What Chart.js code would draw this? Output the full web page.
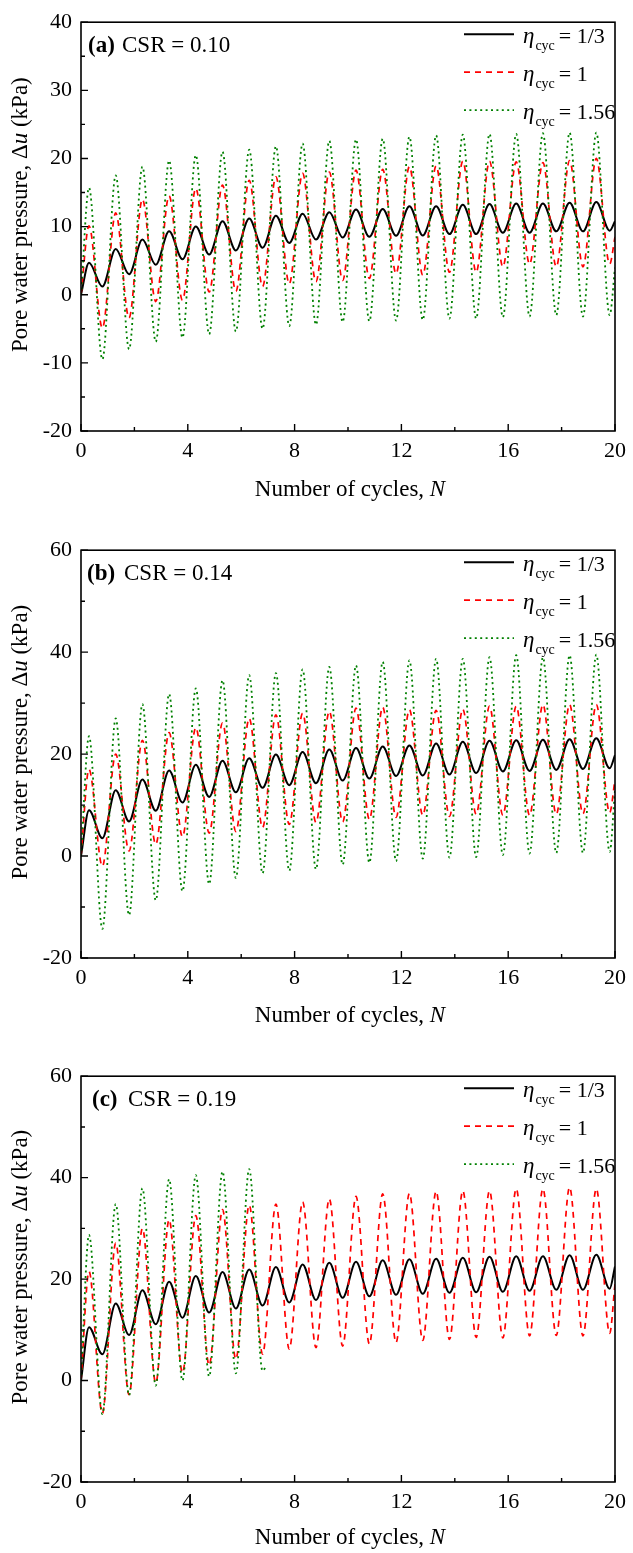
<!DOCTYPE html>
<html lang="en">
<head>
    <meta charset="UTF-8">
    <title>Pore water pressure vs. number of cycles</title>
    <script src="https://cdn.jsdelivr.net/npm/chart.js"></script>
    <style>
        body { margin: 0; width: 633px; height: 1553px; overflow: hidden; background: #fff; position: relative; }
        .panel { position: absolute; left: 0; width: 633px; height: 520px; }
    </style>
</head>
<body>
    <!-- (a) CSR = 0.10 -->
    <div class="panel" style="top:0px"><canvas id="chartA" width="633" height="520"></canvas></div>
    <!-- (b) CSR = 0.14 -->
    <div class="panel" style="top:528px"><canvas id="chartB" width="633" height="520"></canvas></div>
    <!-- (c) CSR = 0.19 -->
    <div class="panel" style="top:1054px"><canvas id="chartC" width="633" height="520"></canvas></div>

<script>
// =================================================================
//  data: peak / trough of every loading cycle
// =================================================================

// position (N) of the peaks and troughs, same for all curves
const peakN   = [0.3, 1.3, 2.3, 3.3, 4.3, 5.3, 6.3, 7.3, 8.3, 9.3, 10.3, 11.3, 12.3, 13.3, 14.3, 15.3, 16.3, 17.3, 18.3, 19.3];
const troughN = [0.8, 1.8, 2.8, 3.8, 4.8, 5.8, 6.8, 7.8, 8.8, 9.8, 10.8, 11.8, 12.8, 13.8, 14.8, 15.8, 16.8, 17.8, 18.8, 19.8];

const legendLabels = ['1/3', '1', '1.56'];

// (a) CSR = 0.10
const aPeak033   = [4.7, 6.7, 8.1, 9.3, 10.0, 10.8, 11.2, 11.6, 11.9, 12.1, 12.5, 12.6, 13.0, 13.0, 13.2, 13.3, 13.4, 13.4, 13.5, 13.6];
const aTrough033 = [1.2, 3.0, 4.4, 5.2, 5.9, 6.5, 6.9, 7.6, 8.1, 8.4, 8.5, 8.65, 8.7, 8.9, 8.9, 9.1, 9.1, 9.3, 9.3, 9.4];
const aPeak1     = [10.1, 12.0, 14.0, 14.5, 15.6, 16.1, 16.8, 17.3, 17.8, 18.0, 18.3, 18.4, 18.8, 18.9, 19.6, 19.6, 19.5, 19.4, 19.7, 20.0];
const aTrough1   = [-4.9, -3.4, -1.0, -0.8, 0.4, 0.5, 1.2, 1.6, 1.9, 2.1, 2.4, 3.1, 2.9, 3.3, 3.3, 4.1, 4.5, 4.1, 4.1, 4.5];
const aPeak156   = [15.7, 17.5, 18.8, 19.7, 20.5, 21.0, 21.3, 21.8, 22.2, 22.6, 22.8, 22.9, 23.2, 23.4, 23.5, 23.6, 23.6, 23.7, 23.8, 23.8];
const aTrough156 = [-9.5, -8.0, -6.9, -6.3, -5.8, -5.4, -5.0, -4.6, -4.4, -4.0, -3.9, -3.8, -3.7, -3.5, -3.5, -3.3, -3.2, -3.0, -3.2, -3.0];
const aEnd       = [10.8, 8.5, 4.0];   // value at N = 20

// (b) CSR = 0.14
const bPeak033   = [9.0, 12.9, 15.0, 16.8, 17.9, 18.7, 19.2, 19.9, 20.4, 20.9, 21.2, 21.5, 21.7, 22.1, 22.4, 22.6, 22.7, 22.8, 22.9, 23.1];
const bTrough033 = [3.5, 6.8, 8.9, 10.5, 11.6, 12.5, 13.4, 13.9, 14.3, 14.8, 15.2, 15.7, 15.8, 16.0, 16.3, 16.6, 16.7, 16.9, 17.1, 17.2];
const bPeak1     = [17.0, 20.0, 22.7, 24.2, 25.2, 26.1, 27.0, 27.7, 28.0, 28.4, 29.0, 29.2, 28.7, 28.6, 28.8, 29.4, 29.4, 29.7, 29.7, 29.7];
const bTrough1   = [-2.0, 1.0, 2.3, 3.8, 4.5, 4.8, 5.6, 6.2, 6.6, 6.7, 7.2, 7.6, 8.0, 7.8, 8.2, 8.0, 8.0, 8.2, 8.3, 8.5];
const bPeak156   = [23.5, 27.0, 29.8, 31.8, 32.9, 34.5, 35.5, 35.9, 36.6, 37.1, 37.4, 38.1, 38.4, 38.7, 38.7, 39.0, 39.4, 39.0, 39.4, 39.5];
const bTrough156 = [-14.3, -11.6, -8.7, -6.9, -5.5, -4.3, -3.4, -2.9, -2.6, -1.7, -1.3, -1.0, -0.5, -0.3, -0.2, 0.2, 0.5, 0.6, 0.6, 0.8];
const bEnd       = [19.8, 15.0, 13.0];

// (c) CSR = 0.19  (eta = 1.56 stops after 7 cycles)
const cPeak033   = [10.5, 15.2, 17.8, 19.5, 20.6, 21.4, 21.9, 22.4, 22.9, 23.2, 23.4, 23.7, 23.9, 24.0, 24.2, 24.4, 24.5, 24.5, 24.7, 24.8];
const cTrough033 = [5.2, 9.0, 11.1, 12.4, 13.4, 14.2, 14.8, 15.4, 15.9, 16.3, 16.6, 16.9, 17.1, 17.3, 17.4, 17.5, 17.7, 17.9, 17.9, 18.1];
const cPeak1     = [21.5, 27.1, 30.0, 31.7, 32.5, 33.7, 34.6, 34.8, 35.2, 35.8, 36.3, 36.8, 36.9, 37.3, 37.4, 37.4, 37.8, 37.8, 38.1, 37.8];
const cTrough1   = [-6.5, -2.8, -0.5, 1.5, 3.0, 4.2, 5.2, 6.2, 6.5, 6.8, 7.2, 7.5, 7.9, 8.1, 8.5, 8.4, 8.8, 8.9, 8.8, 9.3];
const cPeak156   = [28.7, 34.8, 37.9, 39.7, 40.5, 41.2, 41.7];
const cTrough156 = [-6.6, -2.9, -1.0, 0.0, 0.8, 1.4, 1.9];
const cEnd       = [22.5, 19.0, 2.5];
const cEndN      = [20, 20, 6.9];

// =================================================================
//  building the charts
// =================================================================
Chart.defaults.font.family = "'Liberation Serif', 'Times New Roman', serif";
Chart.defaults.color = '#000';

// start at 0, then peak / trough pairs, then the last value
function toPoints(peaks, troughs, endN, endValue) {
    const pts = [{x: 0, y: 0}];
    for (let i = 0; i < peaks.length; i++) {
        pts.push({x: peakN[i], y: peaks[i]});
        if (i < troughs.length) pts.push({x: troughN[i], y: troughs[i]});
    }
    pts.push({x: endN, y: endValue});
    return pts;
}

const styles = [
    {color: '#000000', width: 2.0, dash: []},
    {color: '#ff0000', width: 1.7, dash: [6, 5]},
    {color: '#008000', width: 1.8, dash: [2, 3.4]}
];

const SERIF = "'Liberation Serif', 'Times New Roman', serif";

// draw text made of several runs with different fonts
function drawRuns(ctx, runs, x, y, center) {
    let total = 0;
    runs.forEach(r => { ctx.font = r[1]; total += ctx.measureText(r[0]).width; });
    let cx = center ? x - total / 2 : x;
    runs.forEach(r => {
        ctx.font = r[1];
        ctx.fillText(r[0], cx, y);
        cx += ctx.measureText(r[0]).width;
    });
}

// frame, inner ticks, axis titles, panel label and legend
const decor = {
    id: 'decor',
    afterDraw(chart, args, o) {
        const ctx = chart.ctx;
        const {left, right, top, bottom} = chart.chartArea;
        const xs = chart.scales.x, ys = chart.scales.y;
        ctx.save();
        ctx.strokeStyle = '#000';
        ctx.fillStyle = '#000';

        // ticks pointing inward
        ctx.lineWidth = 1.4;
        ctx.beginPath();
        for (let v = 0; v <= 20; v += 2) {
            const px = xs.getPixelForValue(v);
            const len = v % 4 === 0 ? 7 : 4;
            ctx.moveTo(px, bottom); ctx.lineTo(px, bottom - len);
        }
        for (let v = ys.min; v <= ys.max; v += o.yMinor) {
            const py = ys.getPixelForValue(v);
            const len = (v - ys.min) % o.yStep === 0 ? 7 : 4;
            ctx.moveTo(left, py); ctx.lineTo(left + len, py);
        }
        ctx.stroke();

        ctx.lineWidth = 1.6;
        ctx.strokeRect(left, top, right - left, bottom - top);

        // x title
        ctx.textBaseline = 'alphabetic';
        drawRuns(ctx, [['Number of cycles, ', '23px ' + SERIF], ['N', 'italic 23px ' + SERIF]],
                 (left + right) / 2 + 2, bottom + o.xTitleGap, true);

        // y title, rotated
        ctx.save();
        ctx.translate(27, (top + bottom) / 2 - 12);
        ctx.rotate(-Math.PI / 2);
        drawRuns(ctx, [['Pore water pressure, \u0394', '23px ' + SERIF], ['u', 'italic 23px ' + SERIF],
                       [' (kPa)', '23px ' + SERIF]], 0, 0, true);
        ctx.restore();

        // panel label
        drawRuns(ctx, [[o.tag, 'bold 23px ' + SERIF]], o.tagX, top + 30, false);
        drawRuns(ctx, [[o.csr, '23px ' + SERIF]], o.csrX, top + 30, false);

        // legend
        for (let i = 0; i < 3; i++) {
            const st = styles[i];
            const ry = top + 12 + i * 38;
            ctx.save();
            ctx.strokeStyle = st.color;
            ctx.lineWidth = st.width;
            ctx.setLineDash(st.dash);
            ctx.beginPath();
            ctx.moveTo(464, ry); ctx.lineTo(514, ry);
            ctx.stroke();
            ctx.restore();

            let x = 523;
            ctx.font = 'italic 23px ' + SERIF;
            ctx.fillText('\u03b7', x, ry + 9);
            x += ctx.measureText('\u03b7').width + 1;
            ctx.font = '14px ' + SERIF;
            ctx.fillText('cyc', x, ry + 16);
            x += ctx.measureText('cyc').width + 4;
            ctx.font = '22px ' + SERIF;
            ctx.fillText('= ' + legendLabels[i], x, ry + 9);
        }
        ctx.restore();
    }
};

function makePanel(canvasId, p) {
    const datasets = p.series.map((pts, i) => ({
        label: '\u03b7cyc = ' + legendLabels[i],
        data: pts,
        showLine: true,
        borderColor: styles[i].color,
        borderWidth: styles[i].width,
        borderDash: styles[i].dash,
        pointRadius: 0,
        fill: false,
        cubicInterpolationMode: 'monotone',
        order: 2 - i          // green on top, black underneath
    }));

    new Chart(document.getElementById(canvasId), {
        type: 'scatter',
        data: {datasets: datasets},
        options: {
            responsive: false,
            animation: false,
            events: [],
            layout: {padding: {top: 17, right: 13, left: 0, bottom: 0}},
            scales: {
                x: {
                    type: 'linear', min: 0, max: 20,
                    grid: {display: false, drawTicks: false},
                    border: {display: false},
                    ticks: {stepSize: 4, padding: 7, font: {size: 22}, maxRotation: 0},
                    afterFit(scale) { scale.height = 520 - 17 - p.plotH; }
                },
                y: {
                    type: 'linear', min: p.yMin, max: p.yMax,
                    grid: {display: false, drawTicks: false},
                    border: {display: false},
                    ticks: {stepSize: p.yStep, padding: 9, font: {size: 22}},
                    afterFit(scale) { scale.width = 81; }
                }
            },
            plugins: {
                legend: {display: false},
                tooltip: {enabled: false},
                decor: {
                    tag: p.tag, csr: p.csr, tagX: p.tagX, csrX: p.csrX,
                    yStep: p.yStep, yMinor: p.yMinor, xTitleGap: p.xTitleGap
                }
            }
        },
        plugins: [decor]
    });
}

makePanel('chartA', {
    tag: '(a)', csr: 'CSR = 0.10', tagX: 88, csrX: 122, plotH: 414, xTitleGap: 65,
    yMin: -20, yMax: 40, yStep: 10, yMinor: 5,
    series: [toPoints(aPeak033, aTrough033, 20, aEnd[0]),
             toPoints(aPeak1, aTrough1, 20, aEnd[1]),
             toPoints(aPeak156, aTrough156, 20, aEnd[2])]
});

makePanel('chartB', {
    tag: '(b)', csr: 'CSR = 0.14', tagX: 87, csrX: 124, plotH: 413, xTitleGap: 64,
    yMin: -20, yMax: 60, yStep: 20, yMinor: 10,
    series: [toPoints(bPeak033, bTrough033, 20, bEnd[0]),
             toPoints(bPeak1, bTrough1, 20, bEnd[1]),
             toPoints(bPeak156, bTrough156, 20, bEnd[2])]
});

makePanel('chartC', {
    tag: '(c)', csr: 'CSR = 0.19', tagX: 92, csrX: 128, plotH: 411, xTitleGap: 62,
    yMin: -20, yMax: 60, yStep: 20, yMinor: 10,
    series: [toPoints(cPeak033, cTrough033, cEndN[0], cEnd[0]),
             toPoints(cPeak1, cTrough1, cEndN[1], cEnd[1]),
             toPoints(cPeak156, cTrough156, cEndN[2], cEnd[2])]
});
</script>
</body>
</html>
